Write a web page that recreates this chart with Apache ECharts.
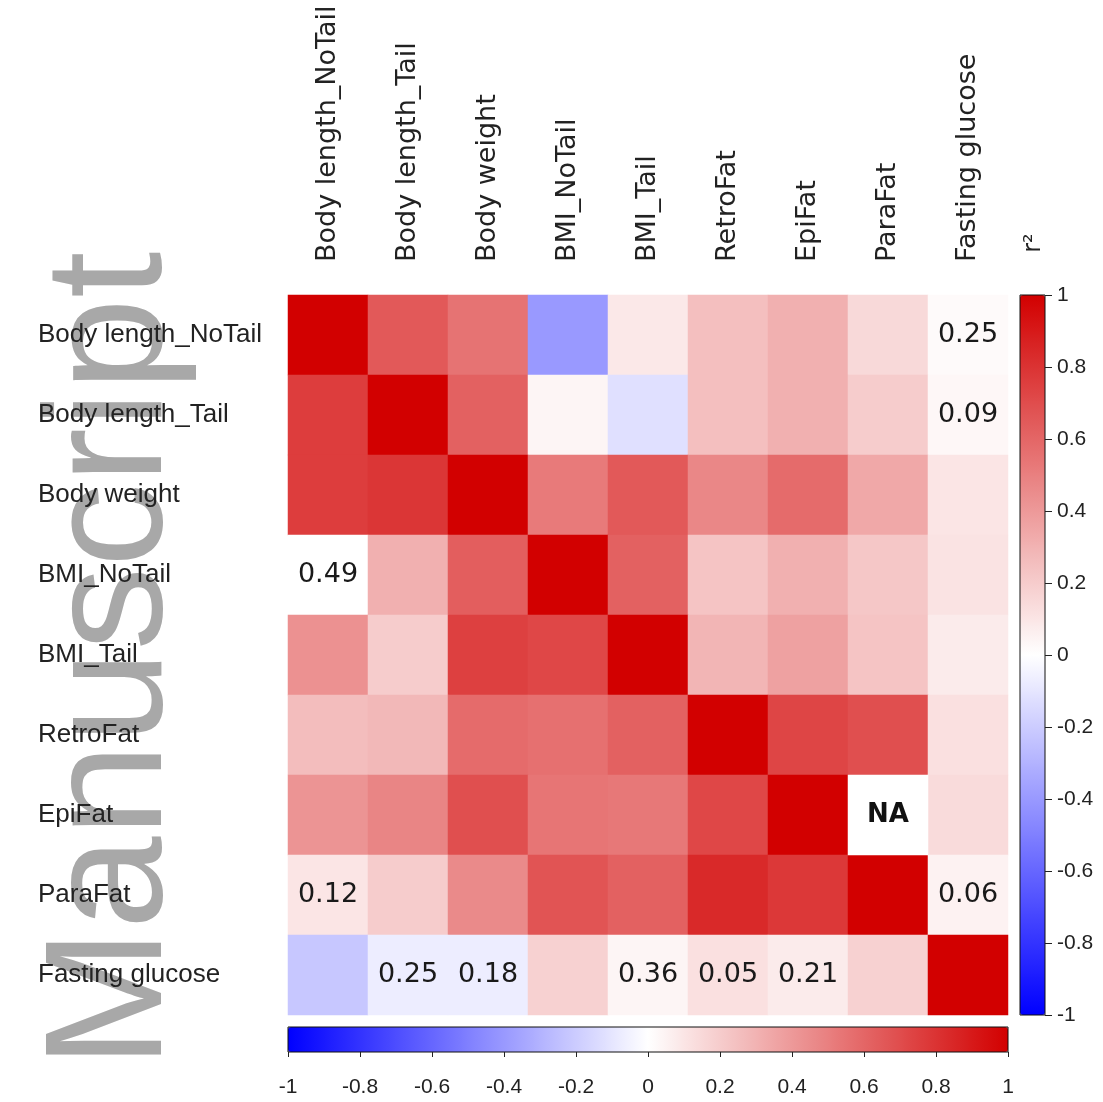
<!DOCTYPE html>
<html>
<head>
<meta charset="utf-8">
<script src="https://cdn.jsdelivr.net/npm/echarts@6/dist/echarts.min.js"></script>
<style>
html,body{margin:0;padding:0;background:#fff}
#chart{width:1103px;height:1102px}
</style>
</head>
<body>
<div id="chart"></div>
<script>
var vars = ['Body length_NoTail','Body length_Tail','Body weight','BMI_NoTail','BMI_Tail','RetroFat','EpiFat','ParaFat','Fasting glucose'];

// r values per row (top to bottom), columns in the same order as vars; null = NA
var rowBodyLenNoTail = [1, 0.65, 0.55, -0.4, 0.09, 0.25, 0.31, 0.15, 0.02];
var rowBodyLenTail   = [0.76, 1, 0.62, 0.04, -0.12, 0.25, 0.31, 0.2, 0.03];
var rowBodyWeight    = [0.76, 0.79, 1, 0.52, 0.65, 0.47, 0.58, 0.34, 0.1];
var rowBmiNoTail     = [0.0, 0.31, 0.63, 1, 0.62, 0.23, 0.31, 0.22, 0.11];
var rowBmiTail       = [0.43, 0.2, 0.75, 0.72, 1, 0.29, 0.37, 0.23, 0.08];
var rowRetroFat      = [0.26, 0.28, 0.58, 0.56, 0.62, 1, 0.73, 0.69, 0.12];
var rowEpiFat        = [0.42, 0.48, 0.69, 0.54, 0.53, 0.72, 1, null, 0.14];
var rowParaFat       = [0.1, 0.2, 0.46, 0.67, 0.62, 0.84, 0.78, 1, 0.05];
var rowGlucose       = [-0.22, -0.07, -0.07, 0.18, 0.04, 0.12, 0.08, 0.18, 1];
var rows = [rowBodyLenNoTail, rowBodyLenTail, rowBodyWeight, rowBmiNoTail, rowBmiTail, rowRetroFat, rowEpiFat, rowParaFat, rowGlucose];

// numbers printed in cells: [row, col, text]
var cellText = [[0,8,'0.25'],[1,8,'0.09'],[3,0,'0.49'],[7,0,'0.12'],[7,8,'0.06'],
  [8,1,'0.25'],[8,2,'0.18'],[8,4,'0.36'],[8,5,'0.05'],[8,6,'0.21']];

var textMap = {};
cellText.forEach(function(t){ textMap[t[0]+'_'+t[1]] = t[2]; });

var heat = [], naData = [];
rows.forEach(function(r, i){
  r.forEach(function(v, j){
    if (v === null) naData.push([j, i, 0]);
    else heat.push([j, i, v]);
  });
});

var colors = ['#0000ff','#ffffff','#d20000'];
var chart = echarts.init(document.getElementById('chart'));
var option = {
  animation:false,
  grid:[
    {left:288, top:295, width:720, height:720},
    {left:1020, top:295, width:25, height:720, show:true, borderColor:'#111', borderWidth:1, backgroundColor:'transparent', z:10},
    {left:288, top:1027, width:720, height:25, show:true, borderColor:'#111', borderWidth:1, backgroundColor:'transparent', z:10}
  ],
  xAxis:[
    {gridIndex:0, type:'category', data:vars, position:'top',
      axisLine:{show:false}, axisTick:{show:false}, splitLine:{show:false},
      axisLabel:{rotate:-90, margin:33, fontSize:27, fontFamily:'DejaVu Sans', color:'#222'}},
    {gridIndex:1, type:'value', min:-1, max:1, show:false},
    {gridIndex:2, type:'value', min:-1, max:1, interval:0.2, position:'bottom', z:10,
      axisLine:{show:false, onZero:false}, splitLine:{show:false},
      axisTick:{show:true, length:5, lineStyle:{color:'#222'}},
      axisLabel:{margin:25, fontSize:21, fontFamily:'Liberation Sans', color:'#222'}}
  ],
  yAxis:[
    {gridIndex:0, type:'category', data:vars, inverse:true,
      axisLine:{show:false}, axisTick:{show:false}, splitLine:{show:false},
      axisLabel:{align:'left', margin:250, fontSize:26, fontFamily:'Liberation Sans', color:'#222'}},
    {gridIndex:1, type:'value', min:-1, max:1, interval:0.2, position:'right', z:10,
      axisLine:{show:false, onZero:false}, splitLine:{show:false},
      axisTick:{show:true, length:7, lineStyle:{color:'#222'}},
      axisLabel:{margin:12, fontSize:21, fontFamily:'Liberation Sans', color:'#222'}},
    {gridIndex:2, type:'value', min:0, max:1, show:false}
  ],
  visualMap:[
    {type:'continuous', seriesIndex:0, min:-1, max:1, calculable:false, orient:'vertical',
      left:1020, top:295, itemWidth:25, itemHeight:720, padding:0, z:1, inRange:{color:colors}},
    {type:'continuous', seriesIndex:0, min:-1, max:1, calculable:false, orient:'horizontal',
      left:288, top:1027, itemWidth:25, itemHeight:720, padding:0, z:1, inRange:{color:colors}}
  ],
  graphic:[
    {type:'text', x:115, y:660, rotation:Math.PI/2, z:-1,
      style:{text:'Manuscript', font:'167px "Liberation Sans"', fill:'#a8a8a8', align:'center', verticalAlign:'middle'}},
    {type:'text', x:1034, y:243, rotation:Math.PI/2,
      style:{text:'r²', font:'24px "DejaVu Sans"', fill:'#222', align:'center', verticalAlign:'middle'}}
  ],
  series:[
    {type:'heatmap', xAxisIndex:0, yAxisIndex:0, data:heat,
      label:{show:true, fontSize:27, fontFamily:'DejaVu Sans', color:'#1a1a1a',
        formatter:function(p){ return textMap[p.value[1]+'_'+p.value[0]] || ''; }}},
    {type:'heatmap', xAxisIndex:0, yAxisIndex:0, data:naData,
      itemStyle:{color:'#ffffff'},
      label:{show:true, fontSize:26, fontWeight:'bold', fontFamily:'DejaVu Sans', color:'#111', formatter:'NA'}}
  ]
};
chart.setOption(option);
</script>
</body>
</html>
